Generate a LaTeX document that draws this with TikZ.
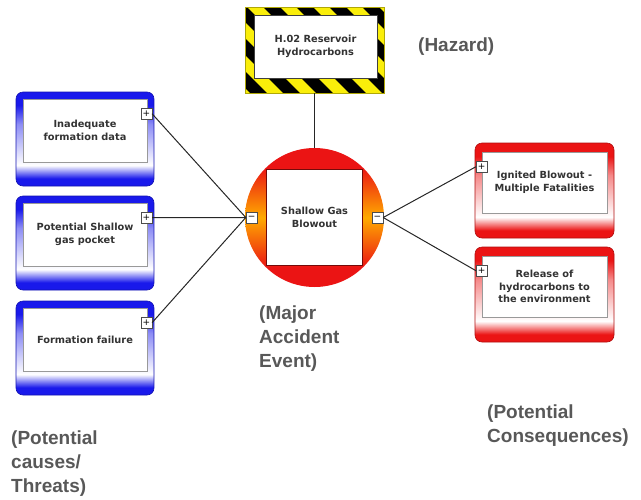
\documentclass[tikz,border=0pt]{standalone}
\usepackage{fontspec}
\setmainfont{DejaVu Sans}
\newfontfamily\labelfont{Liberation Sans}
\usetikzlibrary{positioning}

\definecolor{causeblue}{RGB}{25,25,235}
\definecolor{consred}{RGB}{235,20,20}
\definecolor{labelgray}{RGB}{88,88,88}
\definecolor{hazyellow}{RGB}{250,238,10}
\definecolor{eventorange}{RGB}{255,170,0}

% side fades of the threat / consequence boxes and the event disc
\pgfdeclareverticalshading{causefade}{100bp}{color(0bp)=(causeblue); color(29bp)=(causeblue); color(36bp)=(white); color(58bp)=(causeblue!50!white); color(68bp)=(causeblue); color(100bp)=(causeblue)}
\pgfdeclareverticalshading{consfade}{100bp}{color(0bp)=(consred); color(29bp)=(consred); color(36bp)=(white); color(58bp)=(consred!50!white); color(68bp)=(consred); color(100bp)=(consred)}
\pgfdeclareverticalshading{eventfade}{100bp}{color(0bp)=(consred); color(32bp)=(consred); color(50bp)=(eventorange); color(68bp)=(consred); color(100bp)=(consred)}

\tikzset{
  outerbox/.style={rounded corners=7pt, minimum width=138pt, minimum height=94pt, line width=0.6pt},
  causebox/.style={outerbox, draw=causeblue!75!black, shading=causefade},
  consbox/.style={outerbox, draw=consred!75!black, shading=consfade},
  innerbox/.style={draw=gray!80, fill=white, line width=0.5pt, align=center,
    font=\bfseries\fontsize{9.8}{12.5}\selectfont, text=black!80},
  toggle/.style={draw=gray!60!black, fill=white, minimum size=11pt, inner sep=0pt,
    line width=0.5pt, font=\fontsize{9}{9}\selectfont},
  caption/.style={font=\labelfont\bfseries\fontsize{19}{24}\selectfont, text=labelgray,
    align=left, anchor=base west, inner sep=0pt},
  link/.style={line width=1pt, black!85}
}

\begin{document}
\begin{tikzpicture}[x=1pt,y=-1pt]
\useasboundingbox (0,0) rectangle (641,499);

% hazard
\node[minimum width=139pt, minimum height=86pt, inner sep=0pt, fill=hazyellow, draw=hazyellow!70!black, line width=0.4pt,
  path picture={\foreach \i in {-7,...,7}
    \draw[black, line width=12pt] ([xshift=\i*33pt]path picture bounding box.center) ++(-90pt,90pt) -- ++(180pt,-180pt);}]
  (hazard) at (314.5,50) {};
\node[innerbox, minimum width=123pt, minimum height=63pt, draw=gray!50!black] (hazardtext) at (315.5,46.5) {H.02 Reservoir\\Hydrocarbons};

% top event
\node[circle, minimum size=139pt, inner sep=0pt, shading=eventfade] (event) at (314.5,217.5) {};
\node[innerbox, minimum width=96pt, minimum height=96pt, draw=consred!50!black] (eventtext) at (event) {Shallow Gas\\Blowout};
\node[toggle, anchor=west] (evleft) at ([xshift=1pt]event.west) {−};
\node[toggle, anchor=east] (evright) at ([xshift=-1pt]event.east) {−};

\draw[link] (hazard.south) -- (event.north);

% threats
\node[causebox] (c1) at (85,139) {};
\node[causebox] (c2) at (85,243) {};
\node[causebox] (c3) at (85,348) {};
\node[innerbox, minimum width=124pt, minimum height=63pt, below=7pt of c1.north] (c1text) {Inadequate\\formation data};
\node[innerbox, minimum width=124pt, minimum height=63pt, below=7pt of c2.north] (c2text) {Potential Shallow\\gas pocket};
\node[innerbox, minimum width=124pt, minimum height=63pt, below=7pt of c3.north] (c3text) {Formation failure};
\node[toggle] (p1) at ([shift={(-8,22)}]c1.north east) {+};
\node[toggle] (p2) at ([shift={(-8,22)}]c2.north east) {+};
\node[toggle] (p3) at ([shift={(-8,22)}]c3.north east) {+};

% consequences
\node[consbox, minimum width=139pt, minimum height=95pt] (r1) at (544.5,190.5) {};
\node[consbox, minimum width=139pt, minimum height=95pt] (r2) at (544.5,294.5) {};
\node[innerbox, minimum width=125pt, minimum height=61pt, below=9pt of r1.north] (r1text) {Ignited Blowout -\\Multiple Fatalities};
\node[innerbox, minimum width=125pt, minimum height=61pt, below=9pt of r2.north] (r2text) {Release of\\hydrocarbons to\\the environment};
\node[toggle] (q1) at ([shift={(7,24)}]r1.north west) {+};
\node[toggle] (q2) at ([shift={(7,24)}]r2.north west) {+};

\foreach \p in {p1,p2,p3}
  \draw[link] (\p.east) -- (evleft.west);
\foreach \q in {q1,q2}
  \draw[link] (evright.east) -- (\q.west);

% captions (base = last line)
\node[caption] (hazcap) at (418,51) {(Hazard)};
\node[caption] (eventcap) at (259,367) {(Major\\Accident\\Event)};
\node[caption] (causecap) at (11,492) {(Potential\\causes/\\Threats)};
\node[caption] (conscap) at (487,442) {(Potential\\Consequences)};
\end{tikzpicture}
\end{document}
